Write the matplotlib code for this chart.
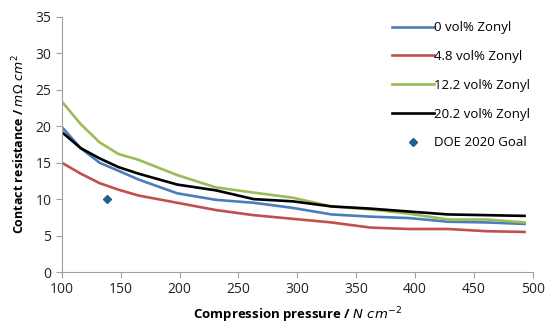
import matplotlib
matplotlib.use("Agg")
import matplotlib.pyplot as plt

pressure = [100, 116, 132, 148, 165, 198, 231, 263, 296, 329, 362, 395, 428, 461, 493]
zonyl_0 = [19.9, 17.0, 15.0, 13.9, 12.7, 10.8, 9.9, 9.5, 8.8, 7.9, 7.6, 7.4, 6.9, 6.8, 6.6]
zonyl_48 = [15.0, 13.5, 12.2, 11.3, 10.5, 9.5, 8.5, 7.8, 7.3, 6.8, 6.1, 5.9, 5.9, 5.6, 5.5]
zonyl_122 = [23.4, 20.3, 17.8, 16.2, 15.4, 13.3, 11.6, 10.9, 10.2, 9.0, 8.6, 8.0, 7.2, 7.2, 6.8]
zonyl_202 = [19.2, 17.0, 15.6, 14.4, 13.5, 12.0, 11.2, 10.0, 9.7, 9.0, 8.7, 8.3, 7.9, 7.8, 7.7]
doe_x = [138]
doe_y = [10]
series_labels = ["0 vol% Zonyl", "4.8 vol% Zonyl", "12.2 vol% Zonyl", "20.2 vol% Zonyl", "DOE 2020 Goal"]
x_ticks = [100, 150, 200, 250, 300, 350, 400, 450, 500]
y_ticks = [0, 5, 10, 15, 20, 25, 30, 35]

plt.rcParams['font.family'] = ['Open Sans', 'DejaVu Sans']
fig = plt.figure(figsize=(5.47, 3.25), dpi=100)
ax = fig.add_axes([0.113, 0.163, 0.861, 0.785])

ax.plot(pressure, zonyl_0, color="#4a7ebb", lw=1.9, label=series_labels[0])
ax.plot(pressure, zonyl_48, color="#c0504d", lw=1.9, label=series_labels[1])
ax.plot(pressure, zonyl_122, color="#9bbb59", lw=1.9, label=series_labels[2])
ax.plot(pressure, zonyl_202, color="#000000", lw=1.9, label=series_labels[3])
ax.plot(doe_x, doe_y, linestyle="none", marker="D", ms=4.5, color="#1f5f8b", label=series_labels[4])

ax.set_xlim(100, 500)
ax.set_ylim(0, 35)
ax.set_xticks(x_ticks)
ax.set_yticks(y_ticks)
for s in ["top", "right"]:
    ax.spines[s].set_visible(False)
for s in ["left", "bottom"]:
    ax.spines[s].set_color("#a0a0a0")
ax.tick_params(axis="both", direction="out", colors="#a0a0a0", labelcolor="#222222", labelsize=10, length=4)

ax.set_xlabel(r"Compression pressure / $\mathit{N\ cm^{-2}}$", fontsize=9.5, fontweight="bold", labelpad=6)
ax.set_ylabel(r"Contact resistance / $\mathit{m\Omega\ cm^{2}}$", fontsize=9, fontweight="bold", labelpad=6)

leg = ax.legend(loc="upper right", bbox_to_anchor=(1.02, 1.03), frameon=False, fontsize=9.5,
                handlelength=3.2, handletextpad=0.0, labelspacing=1.2, markerscale=0.8)

fig.savefig("out.png", dpi=100)
